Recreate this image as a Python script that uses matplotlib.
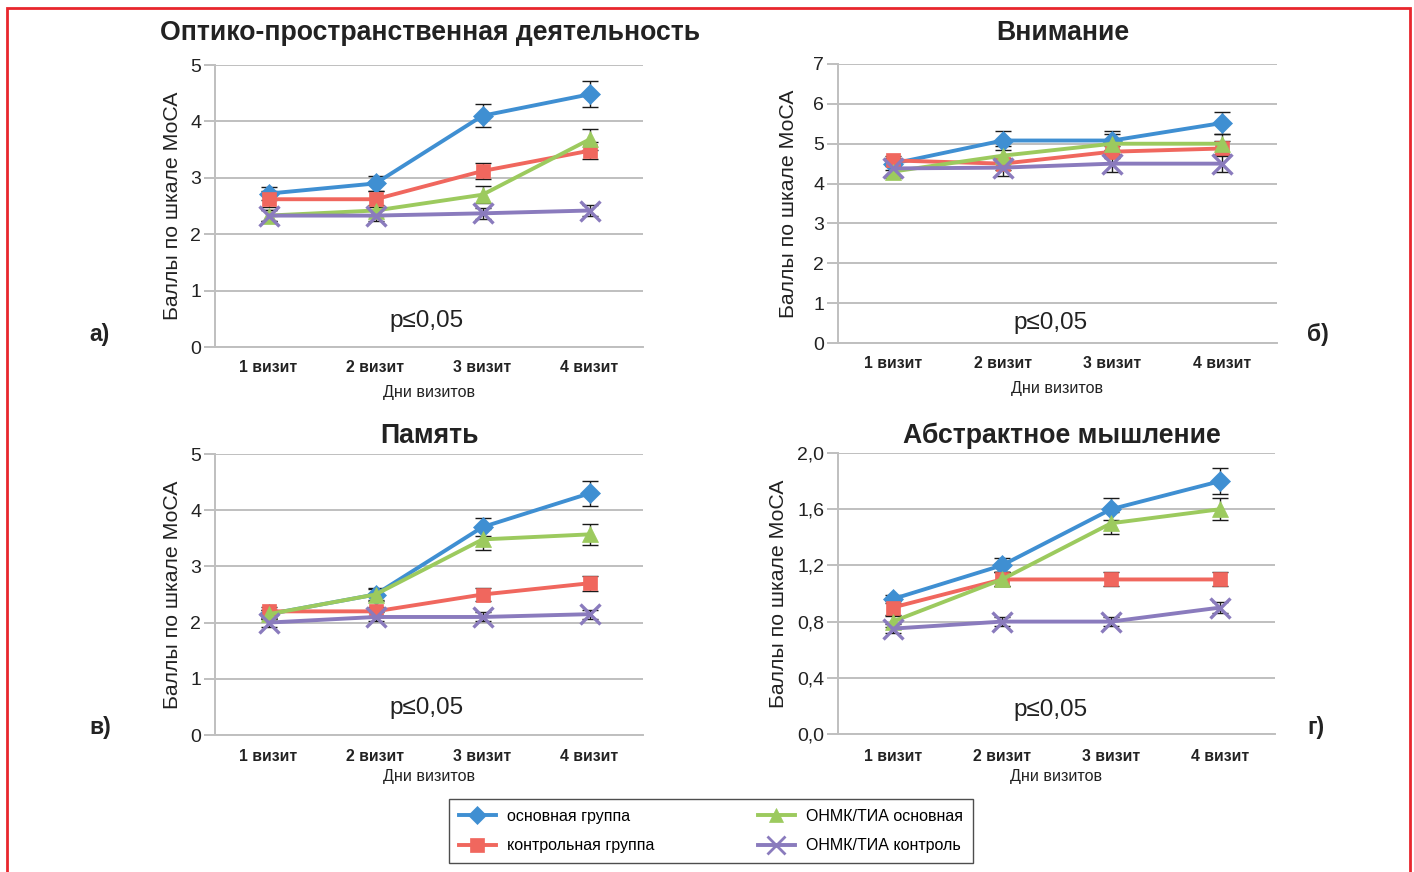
import matplotlib.pyplot as plt
import numpy as np
from matplotlib.lines import Line2D
from matplotlib.patches import Rectangle

# --- data -----------------------------------------------------------------
visits = ["1 визит", "2 визит", "3 визит", "4 визит"]
series_names = ["основная группа", "контрольная группа", "ОНМК/ТИА основная", "ОНМК/ТИА контроль"]

# а) Оптико-пространственная деятельность
visuo_main = [2.72, 2.90, 4.10, 4.48]
visuo_ctrl = [2.62, 2.62, 3.12, 3.48]
visuo_stroke_main = [2.33, 2.42, 2.70, 3.68]
visuo_stroke_ctrl = [2.33, 2.33, 2.37, 2.42]
visuo_err = [[0.12, 0.13, 0.20, 0.23], [0.14, 0.14, 0.15, 0.15],
             [0.10, 0.10, 0.15, 0.18], [0.10, 0.10, 0.10, 0.10]]

# б) Внимание
attn_main = [4.50, 5.08, 5.08, 5.52]
attn_ctrl = [4.58, 4.50, 4.80, 4.88]
attn_stroke_main = [4.30, 4.70, 5.00, 5.00]
attn_stroke_ctrl = [4.38, 4.40, 4.50, 4.50]
attn_err = [[0.15, 0.25, 0.25, 0.27], [0.12, 0.15, 0.15, 0.20],
            [0.15, 0.25, 0.25, 0.25], [0.20, 0.22, 0.22, 0.22]]

# в) Память
mem_main = [2.15, 2.50, 3.70, 4.30]
mem_ctrl = [2.20, 2.20, 2.50, 2.70]
mem_stroke_main = [2.15, 2.50, 3.48, 3.57]
mem_stroke_ctrl = [2.00, 2.10, 2.10, 2.15]
mem_err = [[0.08, 0.10, 0.16, 0.22], [0.08, 0.08, 0.12, 0.13],
           [0.08, 0.12, 0.18, 0.19], [0.08, 0.08, 0.08, 0.08]]

# г) Абстрактное мышление
abstr_main = [0.96, 1.20, 1.60, 1.80]
abstr_ctrl = [0.90, 1.10, 1.10, 1.10]
abstr_stroke_main = [0.80, 1.10, 1.50, 1.60]
abstr_stroke_ctrl = [0.75, 0.80, 0.80, 0.90]
abstr_err = [[0.03, 0.05, 0.08, 0.09], [0.05, 0.05, 0.05, 0.05],
             [0.04, 0.05, 0.08, 0.08], [0.03, 0.03, 0.03, 0.04]]

panels = [
    ("Оптико-пространственная деятельность", "а)",
     [visuo_main, visuo_ctrl, visuo_stroke_main, visuo_stroke_ctrl], visuo_err,
     [0, 1, 2, 3, 4, 5], ["0", "1", "2", "3", "4", "5"]),
    ("Внимание", "б)",
     [attn_main, attn_ctrl, attn_stroke_main, attn_stroke_ctrl], attn_err,
     [0, 1, 2, 3, 4, 5, 6, 7], ["0", "1", "2", "3", "4", "5", "6", "7"]),
    ("Память", "в)",
     [mem_main, mem_ctrl, mem_stroke_main, mem_stroke_ctrl], mem_err,
     [0, 1, 2, 3, 4, 5], ["0", "1", "2", "3", "4", "5"]),
    ("Абстрактное мышление", "г)",
     [abstr_main, abstr_ctrl, abstr_stroke_main, abstr_stroke_ctrl], abstr_err,
     [0, 0.4, 0.8, 1.2, 1.6, 2.0], ["0,0", "0,4", "0,8", "1,2", "1,6", "2,0"]),
]

# --- styling --------------------------------------------------------------
W, H = 1414, 872
NARROW = ["Liberation Sans Narrow", "Liberation Sans", "DejaVu Sans"]
WIDE = ["Liberation Sans", "DejaVu Sans"]
GRID = "#bfbfbf"
colors = ["#3f8fd2", "#f0675e", "#9cca5e", "#8a7bbd"]
markers = ["D", "s", "^", "x"]
msizes = [10, 10.5, 11, 14]

# axes boxes in pixels: left, top, right, bottom
boxes = [(215, 65, 643, 347), (838, 64, 1277, 343),
         (215, 454, 643, 735), (838, 453, 1275, 734)]
title_pos = [(430, 33), (1063, 33), (430, 436), (1062, 436)]
letter_pos = [(100, 334), (1318, 334), (100, 727), (1316, 727)]
ylabel_x = [172, 789, 173, 778]
xlabel_y = [392, 388, 776, 776]
xtick_y = [367, 363, 756, 756]
p_pos = [(427, 321), (1051, 323), (427, 708), (1051, 710)]


def fx(px):
    return px / W


def fy(py):
    return 1 - py / H


fig = plt.figure(figsize=(W / 100, H / 100), dpi=100)
x = np.arange(len(visits))

for i, (title, letter, series, errs, yt, ytl) in enumerate(panels):
    l, t, r, b = boxes[i]
    ax = fig.add_axes([fx(l), fy(b), (r - l) / W, (b - t) / H])
    for k in range(4):
        ax.errorbar(x, series[k], yerr=errs[k], fmt="none", ecolor="#1a1a1a",
                    elinewidth=1, capsize=6, capthick=1, zorder=3)
        ax.plot(x, series[k], color=colors[k], lw=2.8, marker=markers[k],
                ms=msizes[k], mew=2.4 if markers[k] == "x" else 0.5,
                mec=colors[k], mfc=colors[k], zorder=4)
    ax.set_xlim(-0.5, 3.5)
    ax.set_ylim(yt[0], yt[-1])
    ax.set_yticks(yt)
    ax.set_yticklabels(ytl, family=NARROW, fontsize=14, color="#222222")
    ax.set_xticks(x)
    ax.set_xticklabels([])
    ax.yaxis.grid(True, color=GRID, lw=1.4)
    ax.set_axisbelow(True)
    for s in ["top", "right"]:
        ax.spines[s].set_visible(False)
    ax.spines["left"].set_color(GRID)
    ax.spines["left"].set_linewidth(1.4)
    ax.spines["bottom"].set_color(GRID)
    ax.spines["bottom"].set_linewidth(1.4)
    ax.tick_params(axis="y", length=8, width=1.4, color=GRID, pad=2)
    ax.tick_params(axis="x", length=0)

    for j, lab in enumerate(visits):
        xp = l + (j + 0.5) * (r - l) / 4
        fig.text(fx(xp), fy(xtick_y[i]), lab, ha="center", va="center",
                 family=NARROW, fontweight="bold", fontsize=11.3, color="#222222")
    fig.text(fx((l + r) / 2), fy(xlabel_y[i]), "Дни визитов", ha="center", va="center",
             family=NARROW, fontsize=11.6, color="#222222")
    fig.text(fx(ylabel_x[i]), fy((t + b) / 2), "Баллы по шкале МоСА", ha="center",
             va="center", rotation=90, family=NARROW, fontsize=15.3, color="#222222")
    fig.text(fx(p_pos[i][0]), fy(p_pos[i][1]), "p≤0,05", ha="center", va="center",
             family=NARROW, fontsize=17.5, color="#222222")
    fig.text(fx(title_pos[i][0]), fy(title_pos[i][1]), title, ha="center", va="center",
             family=WIDE, fontweight="bold", fontsize=19.2, color="#222222")
    fig.text(fx(letter_pos[i][0]), fy(letter_pos[i][1]), letter, ha="center", va="center",
             family=WIDE, fontweight="bold", fontsize=16.5, color="#222222")

handles = [Line2D([], [], color=colors[k], lw=2.8, marker=markers[k],
                  ms=msizes[k] - 1, mew=2.0 if markers[k] == "x" else 0.5,
                  mec=colors[k], mfc=colors[k]) for k in range(4)]
leg = fig.legend(handles, series_names, loc="center", ncol=2,
                 bbox_to_anchor=(fx(711), fy(831)), frameon=True, fancybox=False,
                 edgecolor="#222222", handlelength=2.3, handletextpad=0.7,
                 columnspacing=6.5, borderpad=0.6, labelspacing=0.9,
                 prop={"family": NARROW, "size": 11.5})
leg.get_frame().set_linewidth(1.0)

fig.patches.append(Rectangle((fx(7), fy(880)), fx(1410) - fx(7), fy(8) - fy(880),
                             transform=fig.transFigure, fill=False,
                             edgecolor="#e8262d", lw=2.0))

fig.savefig("out.png", dpi=100)
